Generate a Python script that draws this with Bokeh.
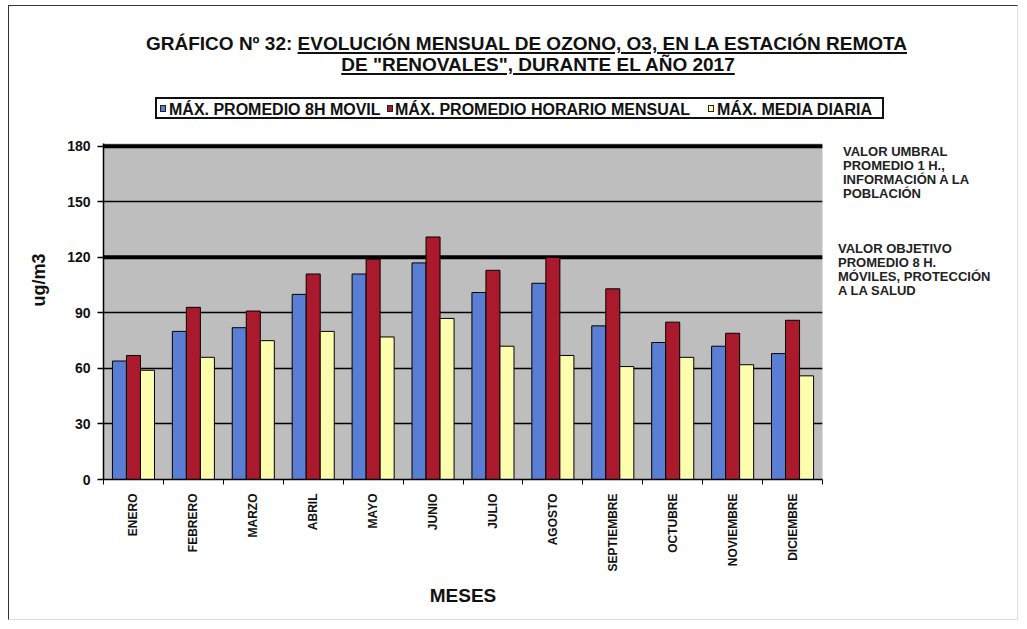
import numpy as np
from bokeh.plotting import figure
from bokeh.layouts import column
from bokeh.models import Range1d, FixedTicker, Span, Div
from bokeh.embed import file_html
from bokeh.resources import INLINE

# ---------------- data ----------------
months = ["ENERO", "FEBRERO", "MARZO", "ABRIL", "MAYO", "JUNIO", "JULIO",
          "AGOSTO", "SEPTIEMBRE", "OCTUBRE", "NOVIEMBRE", "DICIEMBRE"]
max_8h_movil = [64, 80, 82, 100, 111, 117, 101, 106, 83, 74, 72, 68]
max_horario_mensual = [67, 93, 91, 111, 119, 131, 113, 120, 103, 85, 79, 86]
max_media_diaria = [59, 66, 75, 80, 77, 87, 72, 67, 61, 66, 62, 56]
series_names = ["MÁX. PROMEDIO 8H MOVIL", "MÁX. PROMEDIO HORARIO MENSUAL",
                "MÁX. MEDIA DIARIA"]
series_colors = ["#5a7ed3", "#ab1a2c", "#fdfdae"]
y_ticks = [0, 30, 60, 90, 120, 150, 180]
thresholds = [180, 120]
title_plain = "GRÁFICO Nº 32: "
title_underlined_1 = "EVOLUCIÓN MENSUAL DE OZONO, O3, EN LA ESTACIÓN REMOTA"
title_underlined_2 = 'DE "RENOVALES", DURANTE EL AÑO 2017'
note_umbral = ["VALOR UMBRAL", "PROMEDIO 1 H.,", "INFORMACIÓN A LA", "POBLACIÓN"]
note_objetivo = ["VALOR OBJETIVO", "PROMEDIO 8 H.", "MÓVILES, PROTECCIÓN", "A LA SALUD"]
y_title = "ug/m3"
x_title = "MESES"

W, H = 1019, 621
FONT = "'Liberation Sans', Arial, sans-serif"

# ---------------- figure ----------------
p = figure(width=W, height=H, x_range=Range1d(0, 12), y_range=Range1d(0, 181.5),
           output_backend="svg", toolbar_location=None,
           min_border_left=103, min_border_right=197, min_border_top=143,
           min_border_bottom=142, margin=0)
p.title.visible = False
p.background_fill_color = "#bebebe"
p.border_fill_color = "white"
p.outline_line_color = None

centers = np.arange(len(months)) + 0.5
offsets = [-0.234, 0.0, 0.234]
for vals, col, off, name in zip([max_8h_movil, max_horario_mensual, max_media_diaria],
                                series_colors, offsets, series_names):
    p.vbar(x=centers + off, top=vals, width=0.234, bottom=0, name=name,
           fill_color=col, line_color="black", line_width=1)

# grid
p.xgrid.visible = False
p.ygrid.ticker = FixedTicker(ticks=y_ticks)
p.ygrid.grid_line_color = "black"
p.ygrid.grid_line_width = 1.5
for t in thresholds:
    p.add_layout(Span(location=t, dimension="width", line_color="black",
                      line_width=4, level="underlay"))

# axes
p.yaxis.ticker = FixedTicker(ticks=y_ticks)
p.yaxis.major_tick_out = 6
p.yaxis.major_tick_in = 0
p.yaxis.minor_tick_out = 0
p.yaxis.axis_line_color = "black"
p.yaxis.axis_line_width = 1.5
p.yaxis.major_tick_line_width = 1.5
p.yaxis.major_label_text_font = "Liberation Sans"
p.yaxis.major_label_text_font_style = "bold"
p.yaxis.major_label_text_font_size = "14px"
p.yaxis.major_label_text_color = "#111111"
p.yaxis.major_label_standoff = 7

p.xaxis.ticker = FixedTicker(ticks=list(centers), minor_ticks=list(range(len(months) + 1)))
p.xaxis.major_label_overrides = {float(c): m for c, m in zip(centers, months)}
p.xaxis.major_tick_out = 0
p.xaxis.major_tick_in = 0
p.xaxis.minor_tick_out = 5
p.xaxis.minor_tick_in = 0
p.xaxis.minor_tick_line_color = "black"
p.xaxis.axis_line_color = "black"
p.xaxis.axis_line_width = 1.5
p.xaxis.major_label_orientation = np.pi / 2
p.xaxis.major_label_text_font = "Liberation Sans"
p.xaxis.major_label_text_font_style = "bold"
p.xaxis.major_label_text_font_size = "12px"
p.xaxis.major_label_text_color = "#111111"
p.xaxis.major_label_standoff = 9

# ---------------- HTML overlay: title, legend, notes, axis titles, frame ----------------
def abs_div(left, top, inner, extra=""):
    return (f'<div style="position:absolute;left:{left}px;top:{top}px;white-space:nowrap;'
            f'{extra}">{inner}</div>')

u = "text-decoration:underline;text-decoration-thickness:1.5px;text-underline-offset:2px;"
tstyle = f"font-family:{FONT};font-weight:bold;font-size:19px;line-height:19px;color:#111;"
nstyle = f"font-family:{FONT};font-weight:bold;font-size:13px;line-height:14px;color:#222;"
lstyle = f"font-family:{FONT};font-weight:bold;font-size:16px;line-height:16px;color:#111;"

parts = []
parts.append(abs_div(8, 5, "", "width:1010px;height:615px;border-left:1.5px solid #333;"
                                "border-top:1.5px solid #333;border-right:1px solid #ddd;"
                                "border-bottom:1px solid #ddd;"))
parts.append(abs_div(146, 34, f'{title_plain}<span style="{u}">{title_underlined_1}</span>', tstyle))
parts.append(abs_div(0, 55, f'<span style="{u}">{title_underlined_2}</span>',
                     tstyle + "width:1076px;text-align:center;"))

# legend box
parts.append(abs_div(155, 97, "", "width:729px;height:22px;border:2px solid #111;background:white;"))
sq_x = [160, 387, 708]
tx_x = [169, 395, 717]
for name, col, sx_, tx_ in zip(series_names, series_colors, sq_x, tx_x):
    parts.append(abs_div(sx_, 105, "", f"width:6px;height:7px;border:1px solid #222;background:{col};"))
    parts.append(abs_div(tx_, 102, name, lstyle))

parts.append(abs_div(843, 145, "<br>".join(note_umbral), nstyle))
parts.append(abs_div(838, 242, "<br>".join(note_objetivo), nstyle))
parts.append(abs_div(40, 280, y_title,
                     f"font-family:{FONT};font-weight:bold;font-size:18px;color:#111;"
                     "transform:translate(-50%,-50%) rotate(-90deg);"))
parts.append(abs_div(463, 596, x_title,
                     f"font-family:{FONT};font-weight:bold;font-size:19px;color:#111;"
                     "transform:translate(-50%,-50%);"))

overlay = Div(text=f'<div style="position:relative;width:{W}px;height:{H}px;">' + "".join(parts) + "</div>",
              width=W, height=H, margin=(-H, 0, 0, 0))

layout = column(p, overlay, spacing=0, margin=0)
open("out.html", "w").write(file_html(layout, INLINE))
